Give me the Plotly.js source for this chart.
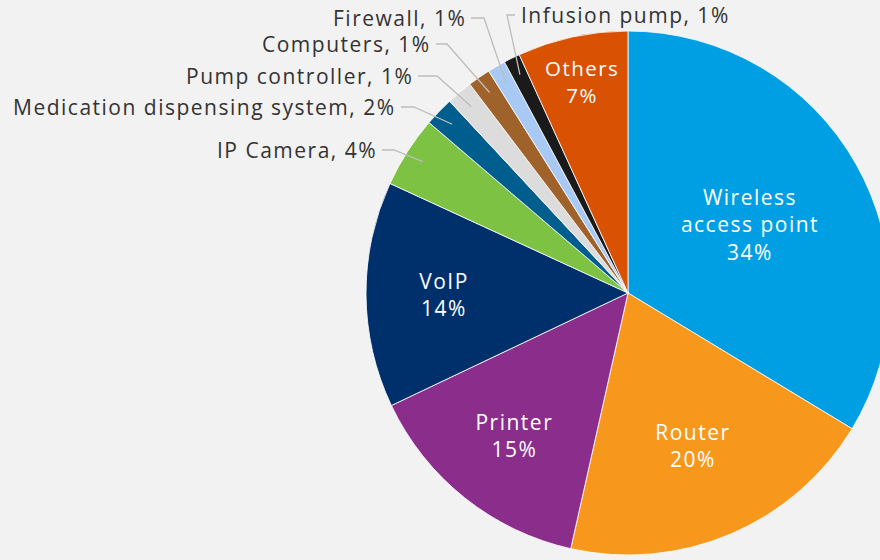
<!DOCTYPE html>
<html>
<head>
<meta charset="utf-8">
<script src="https://cdn.plot.ly/plotly-3.0.1.min.js"></script>
<style>
  html, body { margin: 0; padding: 0; background: #f2f2f2; overflow: hidden; }
  #chart { width: 900px; height: 560px; }
  text { letter-spacing: 1.5px; }
</style>
</head>
<body>
<div id="chart"></div>
<script>
// Categories (clockwise from 12 o'clock)
const categories = [
  "Wireless access point", "Router", "Printer", "VoIP", "IP Camera",
  "Medication dispensing system", "Pump controller", "Computers",
  "Firewall", "Infusion pump", "Others"
];
// Slice sizes (share of devices, %)
const shares = [33.6, 19.8, 14.4, 13.9, 4.4, 1.8, 1.6, 1.4, 1.1, 1.0, 6.8];
// Percent labels printed on the chart
const printedPct = ["34%", "20%", "15%", "14%", "4%", "2%", "1%", "1%", "1%", "1%", "7%"];
// Names shown inside the big slices
const insideNames = ["Wireless<br>access point", "Router", "Printer", "VoIP", "", "", "", "", "", "", "Others"];

// ---- styling / layout (not data) ----
const colors = ["#009fe3", "#f7981d", "#8b2d8b", "#00306c", "#7dc242", "#005e8e",
                "#dcdcdc", "#a0622b", "#a9c9f5", "#1a1a1a", "#d95204"];
const W = 900, H = 560;
const pie = { cx: 628, cy: 293, r: 262 };          // pie placement in pixels
// callout text anchors (pixels) for the small slices: label end/start and line knee
const callouts = {
  4: { x: 379, y: 150, anchor: "right", knee: 394 },
  5: { x: 398, y: 107, anchor: "right", knee: 414 },
  6: { x: 415, y: 76,  anchor: "right", knee: 437 },
  7: { x: 433, y: 44,  anchor: "right", knee: 447 },
  8: { x: 468, y: 18,  anchor: "right", knee: 484 },
  9: { x: 519, y: 15,  anchor: "left",  knee: 507 }
};
const FONT = "Open Sans, sans-serif";

const insideText = categories.map((c, i) =>
  callouts[i] ? "" : insideNames[i] + "<br>" + printedPct[i]);

const trace = {
  type: "pie",
  labels: categories,
  values: shares,
  text: insideText,
  textinfo: "text",
  hoverinfo: "skip",
  sort: false,
  direction: "clockwise",
  rotation: 0,
  textposition: "inside",
  insidetextorientation: "horizontal",
  marker: { colors: colors, line: { color: "rgba(255,255,255,0.8)", width: 1 } },
  insidetextfont: { family: FONT, size: 21, color: "#ffffff" },
  domain: { x: [(pie.cx - pie.r) / W, (pie.cx + pie.r) / W],
            y: [1 - (pie.cy + pie.r) / H, 1 - (pie.cy - pie.r) / H] },
  automargin: false
};

// Leader lines and labels for small slices, tips placed at each slice's mid-angle
const total = shares.reduce((a, b) => a + b, 0);
const annotations = [], shapes = [];
let cum = 0;
shares.forEach((s, i) => {
  const mid = (cum + s / 2) / total * 2 * Math.PI;
  cum += s;
  const c = callouts[i];
  if (!c) return;
  const rt = pie.r * 0.93;
  const tx = pie.cx + rt * Math.sin(mid);
  const ty = pie.cy - rt * Math.cos(mid);
  const sx = c.anchor === "right" ? c.x + 3 : c.x - 4;
  const px = v => v / W, py = v => 1 - v / H;
  shapes.push({
    type: "path", xref: "paper", yref: "paper",
    path: `M ${px(sx)},${py(c.y)} L ${px(c.knee)},${py(c.y)} L ${px(tx)},${py(ty)}`,
    line: { color: "#bdbdbd", width: 1.3 }
  });
  annotations.push({
    xref: "paper", yref: "paper", x: px(c.x), y: py(c.y),
    xanchor: c.anchor, yanchor: "middle", showarrow: false,
    text: categories[i] + ", " + printedPct[i],
    font: { family: FONT, size: 21, color: "#333333" }
  });
});

const layout = {
  width: W, height: H,
  margin: { l: 0, r: 0, t: 0, b: 0 },
  paper_bgcolor: "#f2f2f2",
  plot_bgcolor: "#f2f2f2",
  showlegend: false,
  font: { family: FONT, color: "#333333" },
  annotations: annotations,
  shapes: shapes
};

Plotly.newPlot("chart", [trace], layout, { displayModeBar: false, staticPlot: true });
</script>
</body>
</html>
